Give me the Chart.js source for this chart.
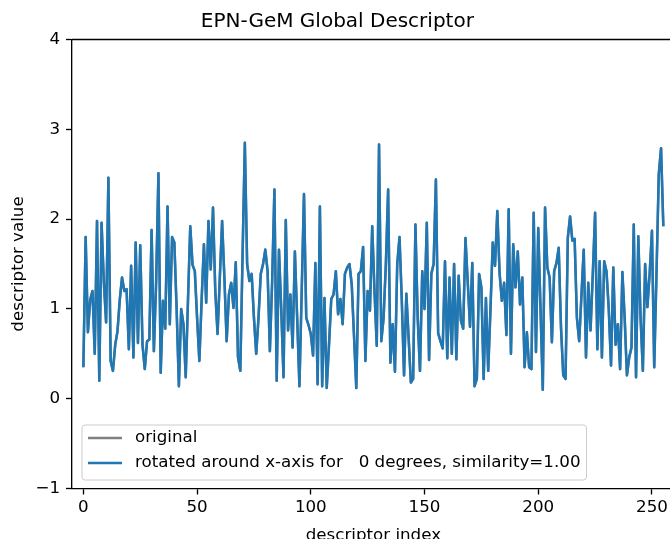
<!DOCTYPE html>
<html>
<head>
<meta charset="utf-8">
<script src="https://cdn.jsdelivr.net/npm/chart.js@4/dist/chart.umd.min.js"></script>
<style>
    html, body { margin: 0; padding: 0; background: #fff; overflow: hidden; }
</style>
</head>
<body>
<canvas id="descriptorChart" width="746" height="539"></canvas>
<script>
// descriptor values, one per index 0..255
const descriptorValues = [
    0.35, 1.8, 0.74, 1.1, 1.2, 0.5, 1.98, 0.2, 1.96, 1.3,
    0.85, 2.46, 0.42, 0.31, 0.6, 0.75, 1.1, 1.35, 1.2, 1.22,
    0.55, 1.48, 0.46, 1.74, 0.62, 1.71, 0.6, 0.33, 0.64, 0.66,
    1.88, 0.53, 1.3, 2.51, 0.29, 1.09, 0.78, 2.14, 0.83, 1.8,
    1.74, 1.0, 0.14, 1.0, 0.83, 0.24, 1.1, 1.92, 1.49, 1.42,
    0.9, 0.42, 1.1, 1.72, 1.07, 1.98, 1.44, 2.13, 1.2, 0.72,
    1.35, 1.98, 1.35, 0.64, 1.16, 1.29, 1.01, 1.52, 0.46, 0.31,
    1.6, 2.85, 1.5, 1.31, 1.39, 0.9, 0.5, 0.9, 1.39, 1.5,
    1.66, 1.42, 0.53, 1.3, 2.33, 0.2, 1.66, 1.0, 0.24, 1.99,
    0.76, 1.16, 0.57, 1.64, 0.9, 0.14, 1.2, 2.28, 0.9, 0.82,
    0.72, 0.48, 1.51, 0.16, 2.14, 0.14, 1.12, 0.12, 0.6, 1.11,
    1.16, 1.42, 0.94, 1.11, 0.83, 1.39, 1.46, 1.5, 1.27, 0.7,
    0.12, 1.39, 1.42, 1.69, 0.42, 1.2, 0.98, 1.92, 1.2, 0.59,
    2.83, 0.64, 0.9, 1.5, 2.33, 0.4, 0.83, 0.3, 1.5, 1.8,
    1.1, 0.26, 1.17, 0.68, 0.18, 0.22, 1.94, 0.9, 0.31, 1.42,
    1.0, 1.96, 0.43, 1.39, 1.5, 2.44, 0.73, 0.64, 0.56, 1.53,
    0.45, 1.35, 0.5, 1.5, 0.44, 1.37, 0.87, 0.78, 1.79, 1.3,
    0.8, 1.51, 0.14, 0.22, 1.39, 1.24, 0.22, 1.12, 0.31, 1.0,
    1.74, 1.48, 2.09, 1.4, 1.09, 1.29, 0.71, 2.11, 0.5, 1.72,
    1.24, 1.64, 1.05, 1.35, 0.35, 0.74, 0.35, 0.33, 2.07, 0.52,
    1.9, 1.0, 0.1, 2.13, 1.46, 1.35, 0.63, 1.42, 1.51, 1.68,
    0.8, 0.26, 0.22, 1.79, 2.03, 1.76, 1.78, 0.9, 0.64, 1.15,
    1.66, 0.46, 1.29, 0.76, 1.4, 2.07, 0.55, 1.53, 0.46, 1.53,
    1.42, 1.0, 0.37, 1.46, 0.6, 0.83, 0.33, 1.41, 0.9, 0.26,
    0.46, 0.57, 1.94, 0.24, 1.81, 0.9, 0.31, 1.5, 1.02, 1.4,
    1.87, 0.35, 1.4, 2.5, 2.79, 1.92
];
const xTicks = [0, 50, 100, 150, 200, 250];
const yTicks = [-1, 0, 1, 2, 3, 4];
const seriesLabels = ['original', 'rotated around x-axis for   0 degrees, similarity=1.00'];
const seriesColours = ['#808080', '#1f77b4'];

const points = descriptorValues.map((v, i) => ({ x: i, y: v }));
const mplFont = { family: 'DejaVu Sans', size: 16.7, weight: 'normal', lineHeight: 1.2 };

// top/right spines like matplotlib
const frame = {
    id: 'frame',
    afterDraw(chart) {
        const { ctx, chartArea } = chart;
        ctx.save();
        ctx.strokeStyle = '#000';
        ctx.lineWidth = 1.33;
        ctx.beginPath();
        ctx.moveTo(chartArea.left, chartArea.top);
        ctx.lineTo(chartArea.right, chartArea.top);
        ctx.lineTo(chartArea.right, chartArea.bottom);
        ctx.stroke();
        ctx.restore();
    }
};

// legend box in the lower left corner of the axes
const legendBox = {
    id: 'legendBox',
    afterDraw(chart) {
        const { ctx, chartArea } = chart;
        ctx.save();
        ctx.font = '16.7px "DejaVu Sans"';
        const textW = Math.max(...seriesLabels.map(t => ctx.measureText(t).width));
        const left = chartArea.left + 10;
        const h = 55;
        const top = chartArea.bottom - 8.5 - h;
        const w = 6 + 34 + 13 + textW + 6;
        const r = 3;

        ctx.beginPath();
        ctx.roundRect(left, top, w, h, r);
        ctx.fillStyle = 'rgba(255,255,255,0.8)';
        ctx.fill();
        ctx.strokeStyle = '#cccccc';
        ctx.lineWidth = 1;
        ctx.stroke();

        seriesLabels.forEach((label, idx) => {
            const y = top + 13 + idx * 25;
            ctx.beginPath();
            ctx.moveTo(left + 6, y);
            ctx.lineTo(left + 40, y);
            ctx.strokeStyle = seriesColours[idx];
            ctx.lineWidth = 2.5;
            ctx.stroke();
            ctx.fillStyle = '#000';
            ctx.textBaseline = 'middle';
            ctx.textAlign = 'left';
            ctx.fillText(label, left + 53, y);
        });
        ctx.restore();
    }
};

const ctx = document.getElementById('descriptorChart');

const descriptorChart = new Chart(ctx, {
    type: 'line',
    data: {
        datasets: seriesLabels.map((label, idx) => ({
            label: label,
            data: points,
            borderColor: seriesColours[idx],
            backgroundColor: seriesColours[idx],
            borderWidth: 2.5,
            pointRadius: 0,
            tension: 0,
            borderJoinStyle: 'round',
            order: idx === 0 ? 1 : 0
        }))
    },
    options: {
        responsive: false,
        animation: false,
        layout: { padding: { left: 0, right: 71.3, top: 0, bottom: 0 } },
        plugins: {
            legend: { display: false },
            tooltip: { enabled: false },
            title: {
                display: true,
                text: 'EPN-GeM Global Descriptor',
                color: '#000',
                font: { family: 'DejaVu Sans', size: 20, weight: 'normal', lineHeight: 1.2 },
                padding: { top: 9.5, bottom: 6 }
            }
        },
        scales: {
            x: {
                type: 'linear',
                min: -5,
                max: 260,
                afterBuildTicks: (axis) => { axis.ticks = xTicks.map(v => ({ value: v })); },
                afterFit: (axis) => { axis.height = 50.5; },
                grid: { drawOnChartArea: false, tickLength: 6, tickColor: '#000', tickWidth: 1.33 },
                border: { color: '#000', width: 1.33 },
                ticks: { color: '#000', padding: 3, autoSkip: false, maxRotation: 0, font: mplFont },
                title: {
                    display: true,
                    text: 'descriptor index',
                    color: '#000',
                    font: mplFont,
                    padding: { top: 0, bottom: -7 }
                }
            },
            y: {
                min: -1,
                max: 4,
                afterBuildTicks: (axis) => { axis.ticks = yTicks.map(v => ({ value: v })); },
                afterFit: (axis) => { axis.width = 72; },
                grid: { drawOnChartArea: false, tickLength: 6, tickColor: '#000', tickWidth: 1.33 },
                border: { color: '#000', width: 1.33 },
                ticks: {
                    color: '#000',
                    padding: 6,
                    font: mplFont,
                    callback: (v) => v < 0 ? '\u2212' + Math.abs(v) : String(v)
                },
                title: {
                    display: true,
                    text: 'descriptor value',
                    color: '#000',
                    font: mplFont,
                    padding: { top: 8.5, bottom: 0 }
                }
            }
        }
    },
    plugins: [frame, legendBox]
});
</script>
</body>
</html>
